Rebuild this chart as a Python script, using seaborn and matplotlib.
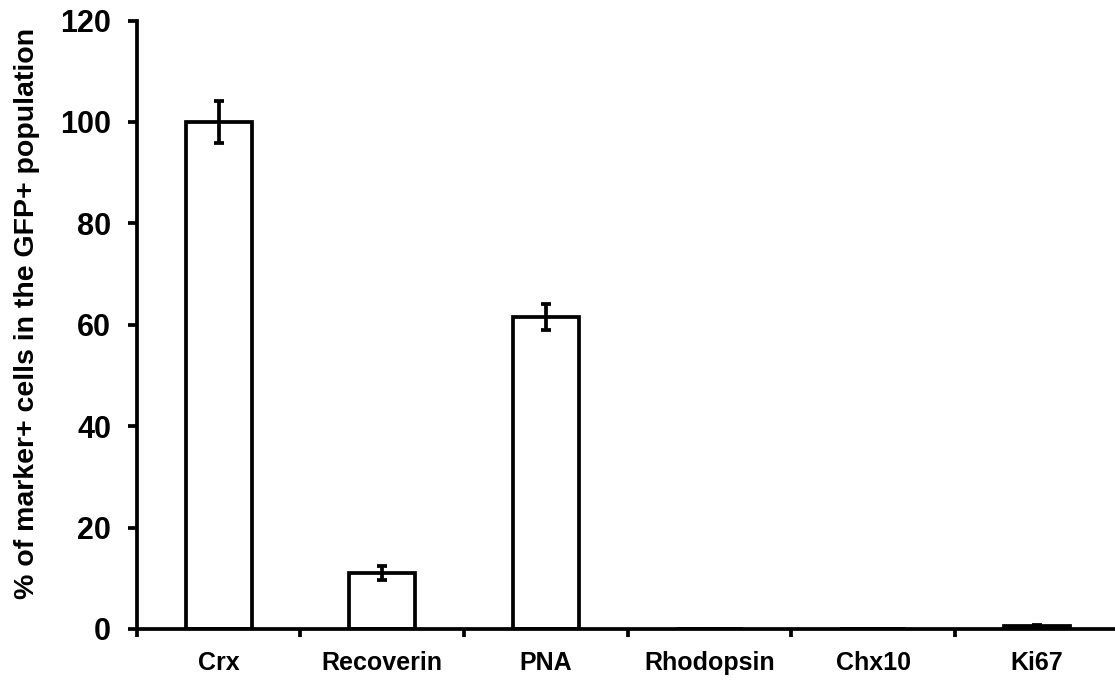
import matplotlib
matplotlib.use("Agg")
import matplotlib.pyplot as plt
import seaborn as sns
import pandas as pd

markers = ["Crx", "Recoverin", "PNA", "Rhodopsin", "Chx10", "Ki67"]
percent_positive = [100.0, 11.0, 61.5, 0.0, 0.0, 0.6]
sem = [4.2, 1.4, 2.6, 0.0, 0.0, 0.2]
y_ticks = [0, 20, 40, 60, 80, 100, 120]

sns.set_theme(style="white")
plt.rcParams["font.family"] = ["Liberation Sans", "DejaVu Sans"]
plt.rcParams["font.weight"] = "bold"
plt.rcParams["text.color"] = "black"
plt.rcParams["axes.labelcolor"] = "black"
plt.rcParams["xtick.color"] = "black"
plt.rcParams["ytick.color"] = "black"

df = pd.DataFrame({"marker": markers, "pct": percent_positive})

fig = plt.figure(figsize=(11.15, 6.83), dpi=100)
ax = fig.add_axes([136.7 / 1115, 1 - 629 / 683, 982 / 1115, (629 - 20.5) / 683])

lw = 2.7
sns.barplot(data=df, x="marker", y="pct", ax=ax, color="white",
            edgecolor="black", linewidth=lw, width=0.403, errorbar=None)
ax.errorbar(range(len(markers)), percent_positive, yerr=sem, fmt="none",
            ecolor="black", elinewidth=lw, capsize=3.4, capthick=lw)

ax.set_xlim(-0.5, len(markers) - 0.5)
ax.set_ylim(0, 120)
ax.set_yticks(y_ticks)
ax.set_yticklabels([str(t) for t in y_ticks], fontsize=22, fontweight="bold",
                   color="black")
ax.set_xticks(range(len(markers)))
ax.set_xticklabels(markers, fontsize=18, fontweight="bold", color="black")
ax.set_xticks([i - 0.5 for i in range(len(markers) + 1)], minor=True)
ax.tick_params(axis="x", which="major", length=0, pad=16)
ax.tick_params(axis="x", which="minor", direction="out", length=6, width=lw,
               color="black", bottom=True)
ax.tick_params(axis="y", which="major", direction="out", length=6.5, width=lw,
               color="black", left=True, pad=12)

ax.set_xlabel("")
ax.set_ylabel("% of marker+ cells in the GFP+ population", fontsize=20.5,
              fontweight="bold", color="black")
ax.yaxis.set_label_coords(-0.098, 0.519)

for side in ["top", "right"]:
    ax.spines[side].set_visible(False)
for side in ["left", "bottom"]:
    ax.spines[side].set_color("black")
    ax.spines[side].set_linewidth(lw)

fig.savefig("out.png", dpi=100)
